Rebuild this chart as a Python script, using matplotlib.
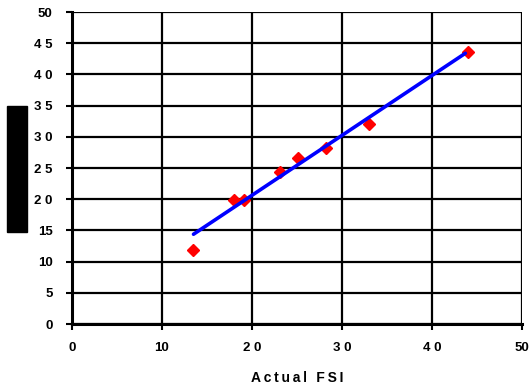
import matplotlib.pyplot as plt
from matplotlib.patches import Rectangle

# actual vs predicted FSI
actual = [13.5, 18.0, 19.1, 23.1, 25.1, 28.2, 33.0, 44.0]
predicted = [11.9, 19.9, 19.9, 24.4, 26.6, 28.2, 32.0, 43.6]

# trend line end points
trend_x = [13.5, 43.7]
trend_y = [14.4, 43.4]

xticks = [0, 10, 20, 30, 40, 50]
xlabels = ['0', '10', '2 0', '3 0', '4 0', '50']
yticks = [0, 5, 10, 15, 20, 25, 30, 35, 40, 45, 50]
ylabels = ['0', '5', '10', '15', '2 0', '2 5', '3 0', '3 5', '4 0', '4 5', '50']

plt.rcParams['font.family'] = ['Liberation Sans', 'DejaVu Sans']

fig = plt.figure(figsize=(5.32, 3.9), dpi=100)
ax = fig.add_axes([0.1353, 0.169, 0.846, 0.8])

ax.plot(actual, predicted, 'D', color='red', ms=6.5, zorder=3)
ax.plot(trend_x, trend_y, '-', color='blue', lw=2.6, zorder=4,
        solid_capstyle='round')

ax.set_xlim(0, 50)
ax.set_ylim(0, 50)
ax.set_xticks(xticks)
ax.set_xticklabels(xlabels)
ax.set_yticks(yticks)
ax.set_yticklabels(ylabels)
ax.grid(True, color='black', lw=1.6)
ax.set_axisbelow(True)

for s in ['top', 'right']:
    ax.spines[s].set_visible(False)
for s in ['left', 'bottom']:
    ax.spines[s].set_linewidth(2.2)

ax.tick_params(direction='out', length=4, width=1.5, labelsize=9.5)
ax.tick_params(axis='x', pad=9)
ax.tick_params(axis='y', pad=10)
for lab in ax.get_xticklabels() + ax.get_yticklabels():
    lab.set_fontweight('bold')

ax.set_xlabel('\u2009'.join('Actual FSI'), fontsize=10, fontweight='bold',
              labelpad=12)

# hidden y label box
fig.patches.append(Rectangle((0.013, 0.405), 0.0376, 0.323,
                             transform=fig.transFigure, color='black'))

fig.savefig('out.png', dpi=100)
